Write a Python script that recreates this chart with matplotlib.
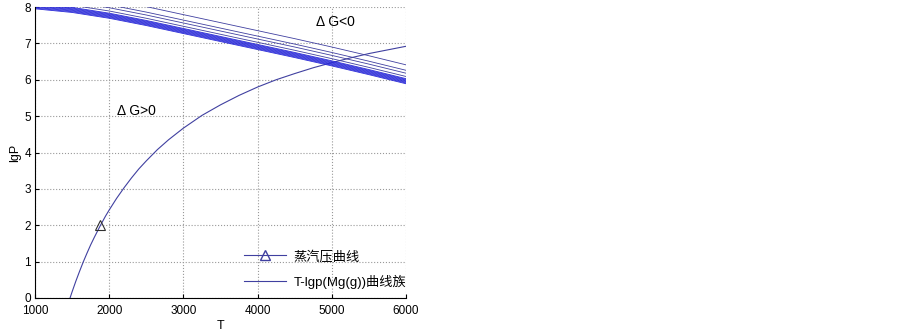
import matplotlib
matplotlib.use("Agg")
import matplotlib.pyplot as plt
import numpy as np

plt.rcParams["font.family"] = ["Liberation Sans", "Noto Sans CJK SC"]
plt.rcParams["axes.unicode_minus"] = False

# vapour pressure curve of Mg
vap_T = [1472, 1500, 1550, 1600, 1650, 1700, 1750, 1800, 1880, 1950, 2000,
         2100, 2200, 2300, 2400, 2500, 2650, 2800, 3000, 3250, 3500, 3750,
         4000, 4250, 4500, 4750, 5000, 5250, 5500, 5750, 6000]
vap_lgp = [0.0, 0.17, 0.46, 0.73, 0.99, 1.23, 1.46, 1.67, 1.99, 2.25, 2.42,
           2.74, 3.03, 3.30, 3.55, 3.77, 4.08, 4.35, 4.67, 5.02, 5.31, 5.57,
           5.80, 6.00, 6.17, 6.33, 6.47, 6.60, 6.72, 6.82, 6.92]
marker_T = [1880]
marker_lgp = [2.0]

# T-lgp(Mg(g)) family: lowest curve, plus where each curve ends at T=6000
fam_T = [1000, 1500, 2000, 2500, 3000, 3500, 4000, 4500, 5000, 5500, 6000]
fam_base = [7.95, 7.85, 7.69, 7.49, 7.27, 7.05, 6.83, 6.61, 6.38, 6.14, 5.89]
fam_end = [5.89, 5.91, 5.93, 5.95, 5.97, 5.99, 6.01, 6.03,
           6.09, 6.18, 6.26, 6.41]

line_c = "#4040a0"

fig = plt.figure(figsize=(9.03, 3.3), dpi=100)
ax = fig.add_axes([35 / 903, 32 / 330, 371 / 903, 291 / 330])

ax.plot(vap_T, vap_lgp, c=line_c, lw=0.8)
ax.plot(marker_T, marker_lgp, ls="none", marker="^", ms=7, mfc="none",
        mec="#303030", mew=0.8)

base = np.array(fam_base)
for i, end in enumerate(fam_end):
    c = "#2a2ad8" if i < 8 else line_c
    ax.plot(fam_T, base + (end - fam_base[-1]), c=c, lw=0.6)

ax.text(2110, 5.15, "Δ G>0", fontsize=10, va="center", ha="left")
ax.text(4790, 7.6, "Δ G<0", fontsize=10, va="center", ha="left")

ax.set_xlim(1000, 6000)
ax.set_ylim(0, 8)
ax.set_xticks(range(1000, 6001, 1000))
ax.set_yticks(range(0, 9))
ax.tick_params(direction="in", length=3, labelsize=8.5, top=False, right=False)
ax.tick_params(axis="x", pad=5)
ax.tick_params(axis="y", pad=3)
ax.grid(which="major", c="#999999", ls=":", lw=0.8)
ax.spines["top"].set_visible(False)
ax.spines["right"].set_visible(False)
ax.set_xlabel("T", fontsize=9, labelpad=2)
ax.set_ylabel("lgP", fontsize=9, labelpad=2)

h1 = matplotlib.lines.Line2D([], [], c=line_c, lw=0.8, marker="^", ms=7,
                             mfc="none", mec=line_c)
h2 = matplotlib.lines.Line2D([], [], c=line_c, lw=0.8)
ax.legend([h1, h2], ["蒸汽压曲线", "T-lgp(Mg(g))曲线族"], loc="lower left",
          bbox_to_anchor=(0.53, -0.01), frameon=False, fontsize=9.5,
          handlelength=3.2, handletextpad=0.6, labelspacing=0.9)

fig.savefig("out.png", dpi=100)
